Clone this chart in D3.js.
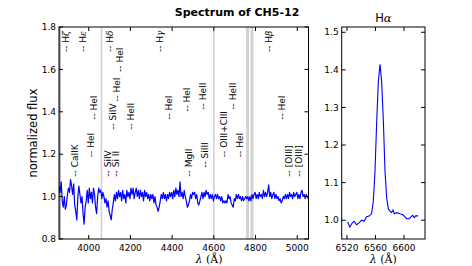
<!DOCTYPE html>
<html><head><meta charset="utf-8">
<script src="https://cdn.jsdelivr.net/npm/d3@7"></script>
<style>
body{margin:0;background:#fff;}
svg{display:block;font-family:"DejaVu Sans",sans-serif;}
</style></head><body>
<svg id="c" width="472" height="266"></svg>
<script>
// ---------------- data ----------------
const mainWaveStart = 3858;
const mainWaveStep = 5;
const mainFlux = [
 1.05,1.02,1.07,0.98,0.95,1.00,0.94,0.96,1.01,1.04,
 1.02,1.08,1.05,1.01,1.06,0.96,0.93,0.89,1.00,1.05,
 1.01,0.97,1.00,0.92,0.87,0.95,0.98,1.03,0.97,1.04,
 0.99,1.02,0.97,1.04,1.01,0.95,0.92,1.00,1.04,1.02,
 1.03,0.99,1.02,1.00,0.97,0.99,0.95,0.98,0.93,0.91,
 0.89,0.94,0.97,1.01,0.98,1.02,0.99,1.03,1.00,1.02,
 0.98,1.03,0.99,1.01,0.97,1.03,1.00,1.02,0.99,1.04,
 1.01,1.04,0.99,1.02,1.04,1.00,1.03,0.99,1.03,1.00,
 1.02,0.98,1.03,1.00,1.02,0.99,1.01,0.98,1.01,0.99,
 1.01,0.97,1.00,0.96,0.95,0.93,0.95,0.98,1.01,0.99,
 1.02,0.99,1.01,0.98,1.01,0.99,1.02,1.00,1.02,0.99,
 1.03,1.00,1.04,1.01,1.03,1.00,1.07,1.00,1.02,0.99,
 1.03,1.00,0.98,0.95,0.96,0.98,1.01,0.99,1.02,1.01,
 1.02,0.99,1.01,0.97,0.96,0.98,1.00,1.02,0.99,1.02,
 1.00,1.03,1.01,1.02,0.99,1.01,0.99,1.01,0.98,1.00,
 1.01,0.99,1.01,0.99,1.00,0.98,1.00,0.97,0.98,0.97,
 0.98,0.97,1.01,0.99,1.00,0.97,0.96,0.95,0.99,0.98,
 1.01,0.99,1.01,0.99,1.00,0.98,1.00,0.98,0.99,1.00,
 0.99,1.00,0.98,1.00,0.98,1.01,0.99,1.01,1.02,0.99,
 1.01,0.99,1.02,1.00,1.01,0.99,1.03,1.00,1.02,1.00,
 1.02,1.055,1.00,1.02,0.99,1.01,1.02,0.99,1.01,0.99,
 1.00,0.98,0.99,0.97,0.98,1.00,0.99,1.01,0.99,1.01,
 0.99,1.02,1.00,1.01,0.99,1.02,1.00,1.01,1.02,0.99,
 1.01,0.99,1.02,1.03,1.00,1.01,0.99,1.01,1.00,0.99
];
const haWave = [6521,6524,6527.5,6530,6533.5,6537,6540.5,6544,6547.5,6551,
 6554.5,6556.9,6559.3,6561.7,6564,6566.4,6568.7,6571.1,6573.4,6575.8,
 6578.1,6580.5,6582.5,6584.5,6586.5,6589.7,6594.4,6598,6601.4,6603.7,
 6607,6609.8,6612.2,6614.5,6616.8,6620];
const haFlux = [0.995,0.982,0.993,0.997,0.988,0.993,1.0,0.997,1.009,1.011,
 1.017,1.049,1.129,1.262,1.368,1.415,1.368,1.262,1.129,1.058,
 1.03,1.024,1.02,1.027,1.017,1.02,1.017,1.015,1.009,1.004,
 1.004,1.009,1.013,1.007,1.012,1.011];

const lineNames = ["H|ζ","H|ε","CaIIK","HeI","HeI","H|δ","SiIV","Si II","SiIV","HeI","HeI","HeII",
 "H|γ","HeI","HeI","MgII","HeII","SiIII","OIII+CIII","HeII","HeI","H|β","HeI","[OIII]","[OIII]"];
const lineWaves = [3889,3970,3934,4026,4009,4102,4089,4128,4116,4133,4149,4200,
 4340,4383,4470,4479,4547,4556,4647,4691,4724,4861,4925,4961,5005];
const lineLevels = [1.682,1.682,1.094,1.362,1.186,1.682,1.094,1.094,1.315,1.447,1.588,1.315,
 1.682,1.362,1.40,1.094,1.41,1.136,1.186,1.41,1.186,1.682,1.362,1.094,1.094];

const maskWaves = [3858,4061,4600,4762,4783];

const mainYTicks = [0.8,1.0,1.2,1.4,1.6,1.8];
const mainXTicks = [4000,4200,4400,4600,4800,5000];
const haYTicks = [1.0,1.1,1.2,1.3,1.4,1.5];
const haXTicks = [6520,6560,6600];

// ---------------- layout ----------------
const svg = d3.select("#c");
const M = {l:59, r:308.5, t:27, b:239};
const H = {l:341.7, r:425, t:27, b:239};

const x = d3.scaleLinear().domain([3857.6,5054]).range([M.l,M.r]);
const y = d3.scaleLinear().domain([0.8,1.8]).range([M.b,M.t]);
const hx = d3.scaleLinear().domain([6512.6,6629.5]).range([H.l,H.r]);
const hy = d3.scaleLinear().domain([0.95,1.514]).range([H.b,H.t]);

const mainData = mainFlux.map((f,i)=>[mainWaveStart+i*mainWaveStep,f]);
const haData = haWave.map((w,i)=>[w,haFlux[i]]);

const defs = svg.append("defs");
defs.append("clipPath").attr("id","cm").append("rect")
  .attr("x",M.l).attr("y",M.t).attr("width",M.r-M.l).attr("height",M.b-M.t);

const gm = svg.append("g").attr("clip-path","url(#cm)");
gm.selectAll("line.mask").data(maskWaves).enter().append("line")
  .attr("x1",d=>x(d)).attr("x2",d=>x(d)).attr("y1",M.t).attr("y2",M.b)
  .attr("stroke",(d,i)=>i===0?"#8a8a8a":"#d2d2d2")
  .attr("stroke-width",(d,i)=>i===0?3:(i>=3?3:1.6));

gm.append("path").datum(mainData)
  .attr("d",d3.line().x(d=>x(d[0])).y(d=>y(d[1])))
  .attr("fill","none").attr("stroke","#0000ff").attr("stroke-width",1.2)
  .attr("stroke-linejoin","round");

const lab = svg.append("g").attr("font-size","9px").attr("fill","#000");
lineNames.forEach((n,i)=>{
  const t = lab.append("text")
    .attr("transform",`translate(${x(lineWaves[i])},${y(lineLevels[i])}) rotate(-90)`)
    .attr("dy","0.36em");
  if(n.includes("|")){
    const [a,b]=n.split("|");
    t.append("tspan").text("-- "+a);
    t.append("tspan").attr("font-family","DejaVu Serif").attr("font-style","italic").text(b);
  } else t.text("-- "+n);
});

function frame(L, xs, ys, xt, yt, yfmt){
  const g = svg.append("g");
  g.append("rect").attr("x",L.l).attr("y",L.t).attr("width",L.r-L.l).attr("height",L.b-L.t)
    .attr("fill","none").attr("stroke","#000").attr("stroke-width",1);
  const tl=4;
  xt.forEach(v=>{
    const px=xs(v);
    g.append("line").attr("x1",px).attr("x2",px).attr("y1",L.b).attr("y2",L.b-tl).attr("stroke","#000");
    g.append("line").attr("x1",px).attr("x2",px).attr("y1",L.t).attr("y2",L.t+tl).attr("stroke","#000");
    g.append("text").attr("x",px).attr("y",L.b+12).attr("text-anchor","middle")
      .attr("font-size","9px").text(v);
  });
  yt.forEach(v=>{
    const py=ys(v);
    g.append("line").attr("x1",L.l).attr("x2",L.l+tl).attr("y1",py).attr("y2",py).attr("stroke","#000");
    g.append("line").attr("x1",L.r).attr("x2",L.r-tl).attr("y1",py).attr("y2",py).attr("stroke","#000");
    g.append("text").attr("x",L.l-3).attr("y",py).attr("dy","0.35em").attr("text-anchor","end")
      .attr("font-size","9px").text(yfmt(v));
  });
}
frame(M,x,y,mainXTicks,mainYTicks,d3.format(".1f"));

svg.append("path").datum(haData)
  .attr("d",d3.line().x(d=>hx(d[0])).y(d=>hy(d[1])))
  .attr("fill","none").attr("stroke","#0000ff").attr("stroke-width",1.1);
frame(H,hx,hy,haXTicks,haYTicks,d3.format(".1f"));

svg.append("text").attr("x",237).attr("y",16).attr("text-anchor","middle")
  .attr("font-size","11px").attr("font-weight","bold").text("Spectrum of CH5-12");
const ht = svg.append("text").attr("x",(H.l+H.r)/2).attr("y",22).attr("text-anchor","middle").attr("font-size","11.5px");
ht.append("tspan").text("H");
ht.append("tspan").attr("font-family","DejaVu Serif").attr("font-style","italic").text("α");

svg.append("text").attr("transform",`translate(37,${(M.t+M.b)/2}) rotate(-90)`)
  .attr("text-anchor","middle").attr("font-size","11.5px").text("normalized flux");

function xlab(cx){
  const t = svg.append("text").attr("x",cx).attr("y",263).attr("text-anchor","middle")
    .attr("font-family","DejaVu Serif").attr("font-size","11px");
  t.append("tspan").attr("font-style","italic").text("λ");
  t.append("tspan").text(" (Å)");
}
xlab(209);
xlab((H.l+H.r)/2);
</script>
</body></html>
